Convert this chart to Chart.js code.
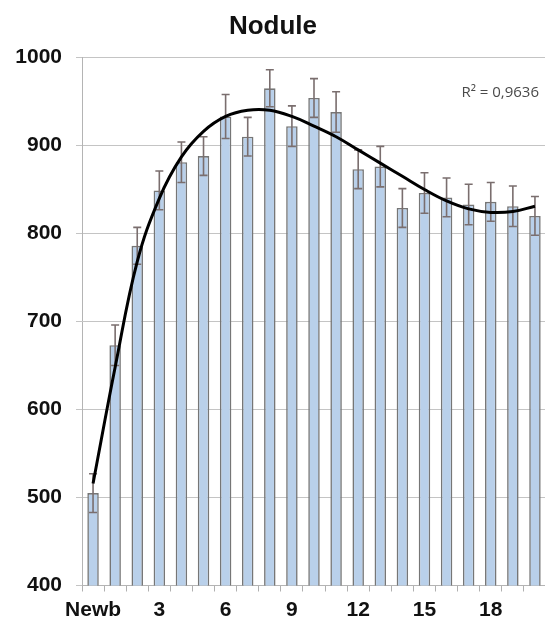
<!DOCTYPE html>
<html>
<head>
<meta charset="utf-8">
<script src="https://cdn.jsdelivr.net/npm/chart.js@4.4.0/dist/chart.umd.min.js"></script>
<style>
  html, body { margin: 0; padding: 0; background: #ffffff; overflow: hidden; }
  #wrap { width: 564px; height: 622px; }
</style>
</head>
<body>
<div id="wrap"><canvas id="c" width="564" height="622"></canvas></div>
<script>
// ---- data ----
const categories = ['Newb','1','2','3','4','5','6','7','8','9','10','11','12','13','14','15','16','17','18','19','20'];
const means  = [505, 673, 786, 849, 881, 888, 933, 910, 965, 922, 954, 938, 873, 876, 829, 846, 841, 833, 836, 831, 820];
const errors = [22, 23, 21, 22, 23, 22, 25, 22, 21, 23, 22, 23, 22, 23, 22, 23, 22, 23, 22, 23, 22];
const trend  = [516, 648, 768, 840, 887, 916, 933, 940, 940, 933, 922, 910, 895, 880, 865, 850, 837, 828, 824, 825, 831];
const yTicks = [400, 500, 600, 700, 800, 900, 1000];
const shownLabelEvery = 3;
const titleText = 'Nodule';
const r2Text = 'R\u00B2 = 0,9636';
const r2AnchorValue = 960;

const errorBarPlugin = {
  id: 'errorBars',
  afterDatasetDraw(chart, args) {
    if (args.index !== 0) return;
    const ctx = chart.ctx;
    const yScale = chart.scales.y;
    const meta = args.meta;
    ctx.save();
    ctx.strokeStyle = '#7a6e6e';
    ctx.lineWidth = 1.6;
    meta.data.forEach((bar, i) => {
      const x = bar.x;
      const yHi = yScale.getPixelForValue(means[i] + errors[i]);
      const yLo = yScale.getPixelForValue(means[i] - errors[i]);
      const cap = 4;
      ctx.beginPath();
      ctx.moveTo(x, yHi); ctx.lineTo(x, yLo);
      ctx.moveTo(x - cap, yHi); ctx.lineTo(x + cap, yHi);
      ctx.moveTo(x - cap, yLo); ctx.lineTo(x + cap, yLo);
      ctx.stroke();
    });
    ctx.restore();
  }
};

const r2Plugin = {
  id: 'r2label',
  afterDraw(chart) {
    const ctx = chart.ctx;
    const y = chart.scales.y.getPixelForValue(r2AnchorValue);
    ctx.save();
    ctx.font = '15px "Open Sans", "Liberation Sans", sans-serif';
    ctx.fillStyle = '#4a4a4a';
    ctx.textAlign = 'right';
    ctx.textBaseline = 'middle';
    ctx.fillText(r2Text, chart.chartArea.right - 7, y);
    ctx.restore();
  }
};

new Chart(document.getElementById('c'), {
  data: {
    labels: categories,
    datasets: [
      {
        type: 'bar',
        data: means,
        backgroundColor: '#b9d0ea',
        borderColor: '#767676',
        borderWidth: 1.6,
        barPercentage: 0.52,
        categoryPercentage: 1.0,
        order: 2
      },
      {
        type: 'line',
        data: trend,
        borderColor: '#000000',
        borderWidth: 3,
        pointRadius: 0,
        fill: false,
        tension: 0.4,
        order: 1
      }
    ]
  },
  options: {
    responsive: false,
    devicePixelRatio: 1,
    animation: false,
    layout: { padding: { left: 0, right: 18, top: 0, bottom: 0 } },
    plugins: {
      legend: { display: false },
      tooltip: { enabled: false },
      title: {
        display: true,
        text: titleText,
        color: '#111111',
        font: { family: '"Liberation Sans", Arial, sans-serif', size: 26, weight: 'bold', lineHeight: 1.2 },
        padding: { top: 11, bottom: 15.3 }
      }
    },
    scales: {
      x: {
        offset: true,
        grid: {
          display: true,
          offset: true,
          drawOnChartArea: false,
          drawTicks: true,
          tickLength: 6,
          color: '#b0b0b0'
        },
        border: { display: true, color: '#b4b4b4', width: 1 },
        ticks: {
          autoSkip: false,
          maxRotation: 0,
          minRotation: 0,
          padding: 6,
          color: '#111111',
          font: { family: '"Liberation Sans", Arial, sans-serif', size: 21, weight: 'bold' },
          callback: function(v, i) { return (i % shownLabelEvery === 0) ? categories[i] : ''; }
        },
        afterFit(s) { s.height = 36.5; }
      },
      y: {
        min: yTicks[0],
        max: yTicks[yTicks.length - 1],
        afterBuildTicks(s) { s.ticks = yTicks.map(v => ({ value: v })); },
        grid: {
          color: '#c4c4c4',
          lineWidth: 1,
          drawTicks: true,
          tickLength: 6
        },
        border: { display: true, color: '#b4b4b4', width: 1 },
        ticks: {
          padding: 14,
          color: '#111111',
          font: { family: '"Liberation Sans", Arial, sans-serif', size: 21, weight: 'bold' },
          callback: function(v) { return String(v); }
        },
        afterFit(s) { s.width = 82; }
      }
    }
  },
  plugins: [errorBarPlugin, r2Plugin]
});
</script>
</body>
</html>
